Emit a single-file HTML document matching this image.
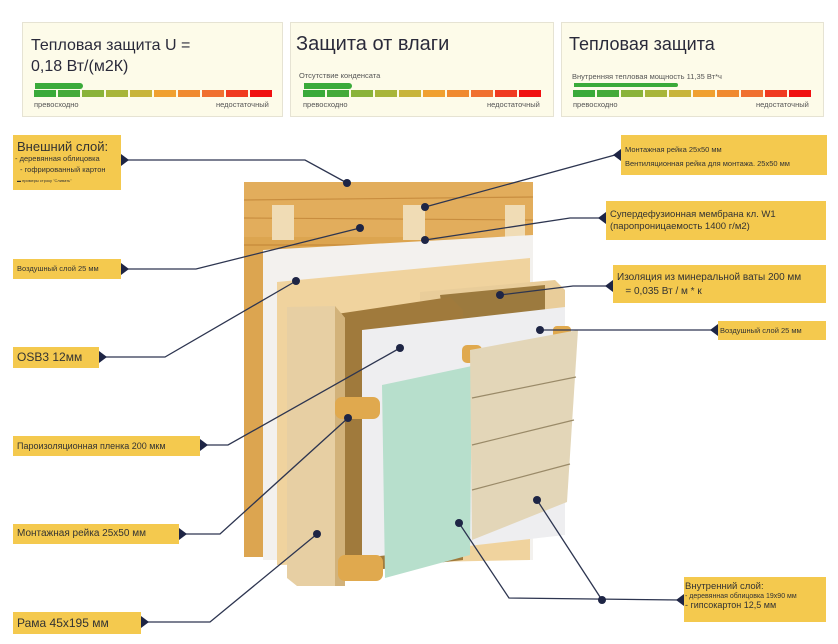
<!DOCTYPE html>
<html><head><meta charset="utf-8"><style>
body{margin:0;width:838px;height:644px;background:#fff;position:relative;overflow:hidden;font-family:"Liberation Sans",sans-serif;color:#333}
.p{position:absolute;top:22px;height:95px;background:#fdfbe9;border:1px solid #e6e3d3;box-sizing:border-box}
.t{position:absolute;white-space:nowrap;color:#2a2a3a}
.bar{position:absolute;height:7px;display:flex;gap:2px}
.bar i{flex:1;display:block}
.pill{position:absolute;height:6px;background:#3aaa3a;border-radius:0 4px 4px 0}
.s{position:absolute;font-size:7.5px;color:#555;white-space:nowrap}
.l{position:absolute;background:#f4c94e;color:#333;white-space:nowrap;box-sizing:border-box;padding-left:4px}
</style></head><body>

<div class="p" style="left:22px;width:261px">
 <div class="t" style="left:8px;top:12px;font-size:16px;line-height:21px">Тепловая защита U =<br>0,18 Вт/(м2К)</div>
 <div class="pill" style="left:12px;top:60px;width:48px"></div>
</div>
<div class="p" style="left:290px;width:264px">
 <div class="t" style="left:5px;top:10px;font-size:20px">Защита от влаги</div>
 <div class="s" style="left:8px;top:48px">Отсутствие конденсата</div>
 <div class="pill" style="left:13px;top:60px;width:48px"></div>
</div>
<div class="p" style="left:561px;width:263px">
 <div class="t" style="left:7px;top:11px;font-size:18px">Тепловая защита</div>
 <div class="s" style="left:10px;top:49px">Внутренняя тепловая мощность 11,35 Вт*ч</div>
 <div class="pill" style="left:12px;top:60px;width:104px;height:4px"></div>
</div>

<div class="bar" style="left:34px;top:90px;width:238px"><i style="background:#3aaa3a"></i><i style="background:#44aa3a"></i><i style="background:#8ab33a"></i><i style="background:#a8b53a"></i><i style="background:#c8b43a"></i><i style="background:#f0a030"></i><i style="background:#f08a30"></i><i style="background:#f07030"></i><i style="background:#f03a20"></i><i style="background:#f01010"></i></div>
<div class="bar" style="left:303px;top:90px;width:238px"><i style="background:#3aaa3a"></i><i style="background:#44aa3a"></i><i style="background:#8ab33a"></i><i style="background:#a8b53a"></i><i style="background:#c8b43a"></i><i style="background:#f0a030"></i><i style="background:#f08a30"></i><i style="background:#f07030"></i><i style="background:#f03a20"></i><i style="background:#f01010"></i></div>
<div class="bar" style="left:573px;top:90px;width:238px"><i style="background:#3aaa3a"></i><i style="background:#44aa3a"></i><i style="background:#8ab33a"></i><i style="background:#a8b53a"></i><i style="background:#c8b43a"></i><i style="background:#f0a030"></i><i style="background:#f08a30"></i><i style="background:#f07030"></i><i style="background:#f03a20"></i><i style="background:#f01010"></i></div>
<div class="s" style="left:34px;top:100px">превосходно</div><div class="s" style="left:216px;top:100px">недостаточный</div>
<div class="s" style="left:303px;top:100px">превосходно</div><div class="s" style="left:487px;top:100px">недостаточный</div>
<div class="s" style="left:573px;top:100px">превосходно</div><div class="s" style="left:756px;top:100px">недостаточный</div>

<svg width="838" height="644" style="position:absolute;left:0;top:0">
 <rect x="244" y="182" width="289" height="375" fill="#dca550"/>
 <rect x="244" y="182" width="289" height="55" fill="#e2ad5c"/>
 <g stroke="#b8792c" stroke-width="1.2" opacity=".6"><line x1="244" y1="200" x2="533" y2="197"/><line x1="244" y1="218" x2="533" y2="220"/><line x1="244" y1="245" x2="533" y2="245"/></g>
 <rect x="272" y="205" width="22" height="35" fill="#f0dcb5"/><rect x="403" y="205" width="22" height="35" fill="#f0dcb5"/><rect x="505" y="205" width="20" height="35" fill="#f0dcb5"/>
 <polygon points="263,250 533,235 533,560 263,560" fill="#f3f1ee"/>
 <polygon points="277,282 530,258 530,560 277,565" fill="#f0d39e"/>
 <polygon points="420,292 555,280 565,290 565,330 420,335" fill="#e9cd9a"/>
 <polygon points="440,295 545,285 545,320 445,325" fill="#9c7a3e"/>
 <polygon points="330,315 450,297 463,310 463,560 330,575" fill="#a07a3c"/>
 <polygon points="362,330 565,307 565,535 362,558" fill="#eeeef0"/>
 <polygon points="287,307 335,306 345,318 345,586 297,586 287,578" fill="#e7cfa3"/>
 <polygon points="335,306 345,318 345,586 335,586" fill="#d2b27a"/>
 <rect x="335" y="397" width="45" height="22" rx="7" fill="#e0a94e"/>
 <rect x="338" y="555" width="45" height="26" rx="7" fill="#e0a94e"/>
 <rect x="462" y="345" width="20" height="18" rx="5" fill="#e0a94e"/>
 <rect x="553" y="326" width="18" height="12" rx="4" fill="#e0a94e"/>
 <polygon points="382,385 472,366 470,555 385,578" fill="#b7dfcc"/>
 <polygon points="470,350 578,330 567,502 472,540" fill="#e3d6b8"/>
 <g stroke="#9a8a68" stroke-width="1.2"><line x1="472" y1="398" x2="576" y2="377"/><line x1="472" y1="445" x2="574" y2="420"/><line x1="472" y1="490" x2="570" y2="464"/></g>
 <g stroke="#2d3550" stroke-width="1.3" fill="none">
  <polyline points="128,160 305,160 347,183"/>
  <polyline points="128,269 196,269 360,228"/>
  <polyline points="105,357 165,357 296,281"/>
  <polyline points="206,445 228,445 400,348"/>
  <polyline points="185,534 220,534 348,418"/>
  <polyline points="147,622 210,622 317,534"/>
  <polyline points="615,155 425,207"/>
  <polyline points="603,218 570,218 425,240"/>
  <polyline points="610,286 573,286 500,295"/>
  <polyline points="715,330 580,330 540,330"/>
  <polyline points="459,523 509,598 680,600"/>
  <polyline points="537,500 602,600"/>
 </g>
 <g fill="#1e2545">
  <circle cx="347" cy="183" r="4"/><circle cx="360" cy="228" r="4"/><circle cx="296" cy="281" r="4"/><circle cx="400" cy="348" r="4"/><circle cx="348" cy="418" r="4"/><circle cx="317" cy="534" r="4"/><circle cx="425" cy="207" r="4"/><circle cx="425" cy="240" r="4"/><circle cx="500" cy="295" r="4"/><circle cx="540" cy="330" r="4"/><circle cx="459" cy="523" r="4"/><circle cx="537" cy="500" r="4"/><circle cx="602" cy="600" r="4"/>
  <polygon points="121,154 129,160 121,166"/><polygon points="121,263 129,269 121,275"/><polygon points="99,351 107,357 99,363"/><polygon points="200,439 208,445 200,451"/><polygon points="179,528 187,534 179,540"/><polygon points="141,616 149,622 141,628"/>
  <polygon points="621,149 613,155 621,161"/><polygon points="606,212 598,218 606,224"/><polygon points="613,280 605,286 613,292"/><polygon points="718,324 710,330 718,336"/><polygon points="684,594 676,600 684,606"/>
 </g>
</svg>

<div class="l" style="left:13px;top:135px;width:108px;height:55px">
 <div style="font-size:13px;margin-top:4px">Внешний слой:</div>
 <div style="font-size:7.5px;margin-left:-2px">- деревянная облицовка</div>
 <div style="font-size:7.5px;margin-left:3px;margin-top:2px">- гофрированный картон</div>
 <div style="font-size:4px;margin-top:4px">▬ примеры строку "Сливать"</div>
</div>
<div class="l" style="left:13px;top:259px;width:108px;height:20px;font-size:7.5px;line-height:20px">Воздушный слой 25 мм</div>
<div class="l" style="left:13px;top:347px;width:86px;height:21px;font-size:12px;line-height:21px">OSB3 12мм</div>
<div class="l" style="left:13px;top:436px;width:187px;height:20px;font-size:9px;line-height:20px">Пароизоляционная пленка 200 мкм</div>
<div class="l" style="left:13px;top:524px;width:166px;height:20px;font-size:10px;line-height:20px">Монтажная рейка 25x50 мм</div>
<div class="l" style="left:13px;top:612px;width:128px;height:22px;font-size:12px;line-height:22px">Рама 45x195 мм</div>

<div class="l" style="left:621px;top:135px;width:206px;height:40px;font-size:7.5px;padding-top:8px;line-height:14px">Монтажная рейка 25x50 мм<br>Вентиляционная рейка для монтажа. 25x50 мм</div>
<div class="l" style="left:606px;top:201px;width:220px;height:39px;font-size:9.5px;padding-top:8px;line-height:12px">Супердефузионная мембрана кл. W1<br>(паропроницаемость 1400 г/м2)</div>
<div class="l" style="left:613px;top:265px;width:213px;height:38px;font-size:10px;padding-top:6px;line-height:14px">Изоляция из минеральной ваты 200 мм<br>&nbsp;&nbsp;&nbsp;= 0,035 Вт / м * к</div>
<div class="l" style="left:718px;top:321px;width:108px;height:19px;font-size:7.5px;line-height:19px;padding-left:2px">Воздушный слой 25 мм</div>
<div class="l" style="left:684px;top:577px;width:142px;height:45px;padding-left:1px;padding-top:4px">
 <div style="font-size:9.5px">Внутренний слой:</div>
 <div style="font-size:7px;margin-top:1px">- деревянная облицовка 19x90 мм</div>
 <div style="font-size:9px">- гипсокартон 12,5 мм</div>
</div>
</body></html>
